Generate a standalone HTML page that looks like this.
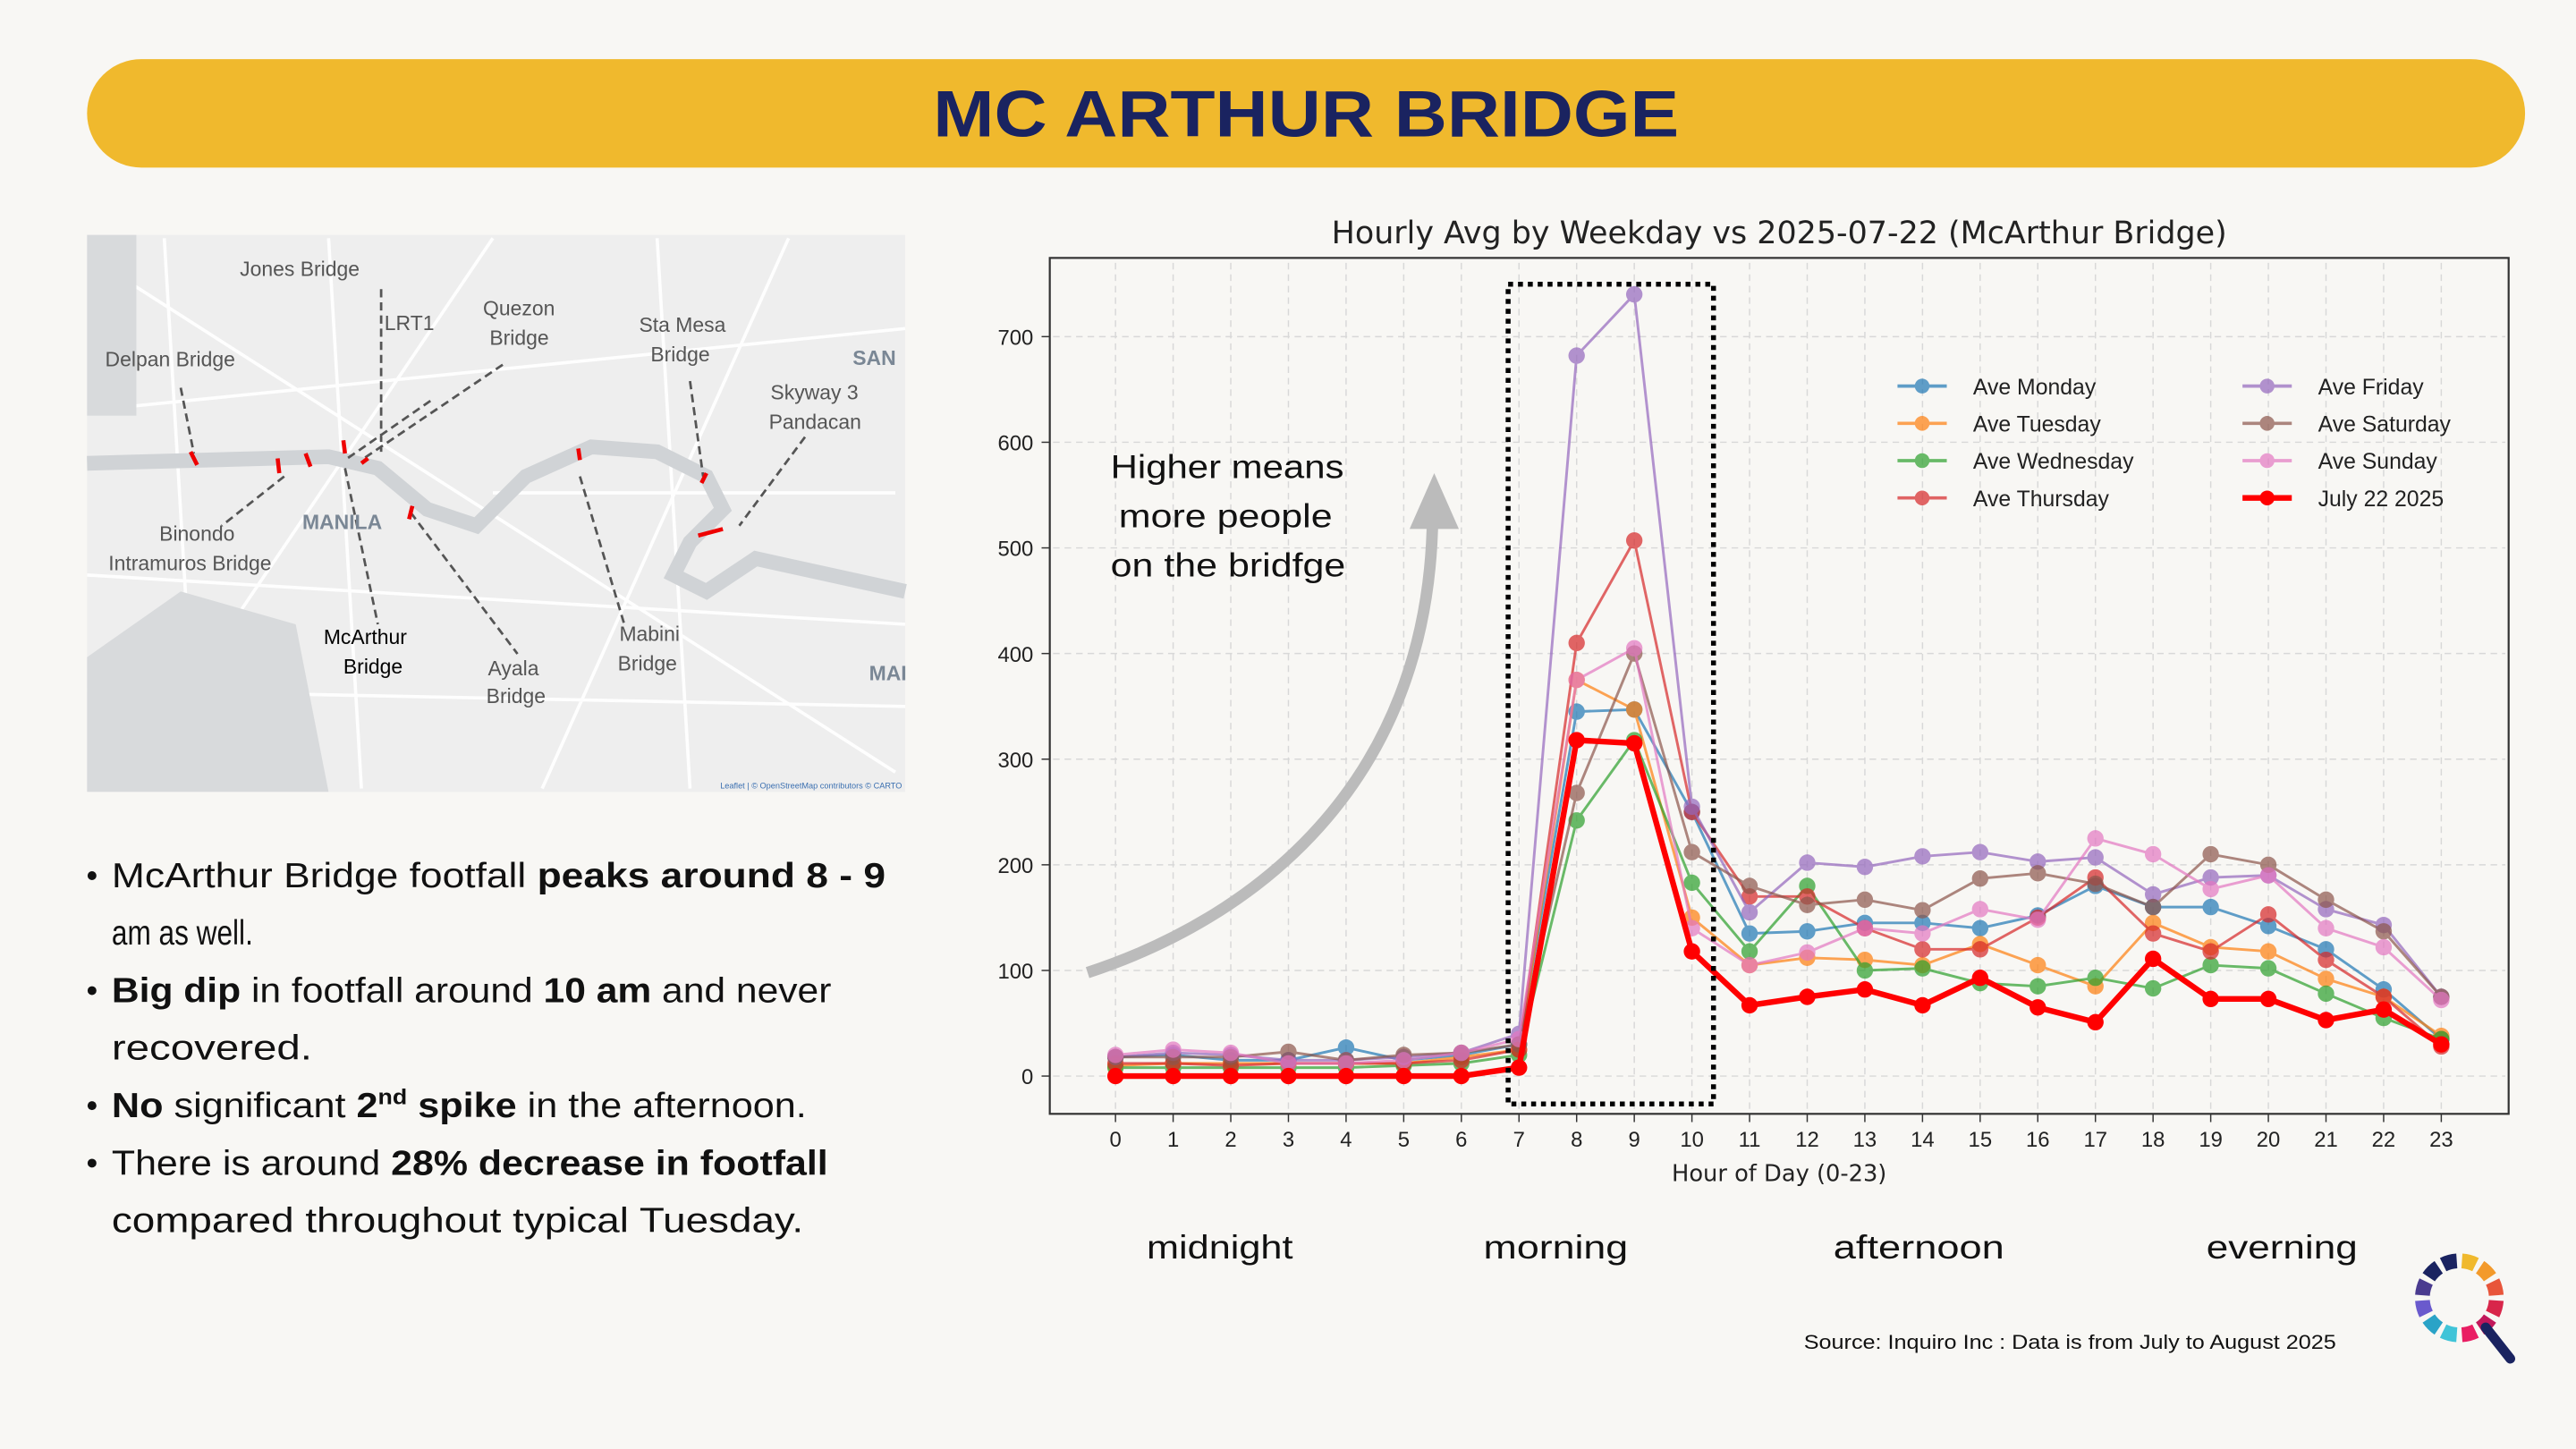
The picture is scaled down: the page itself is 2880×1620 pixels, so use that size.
<!DOCTYPE html>
<html><head><meta charset="utf-8"><style>
html,body{margin:0;padding:0;background:#f8f7f4;}
svg{display:block}
text{font-family:"Liberation Sans","DejaVu Sans",sans-serif}
.dv{font-family:"DejaVu Sans","Liberation Sans",sans-serif}
</style></head><body>
<svg id="s" width="2880" height="1620" viewBox="0 0 1568 882" xmlns="http://www.w3.org/2000/svg">
<rect width="1568" height="882" fill="#f8f7f4"/>
<rect x="53" y="36" width="1484" height="66" rx="33" fill="#f0b92d"/>
<text x="568" y="83" textLength="454" lengthAdjust="spacingAndGlyphs" font-size="40" font-weight="900" fill="#1a2360">MC ARTHUR BRIDGE</text>

<!-- map -->
<rect x="53" y="143" width="498" height="339" fill="#eeeeee"/>
<g stroke="#ffffff" stroke-width="2" fill="none" opacity="0.9">
<path d="M60 160 L545 470 M80 470 L300 145 M200 145 L220 480 M300 300 L545 300 M53 250 L551 200 M53 350 L551 380 M400 145 L420 480 M480 145 L330 480 M100 145 L120 480 M53 420 L551 430"/>
</g>
<rect x="53" y="143" width="30" height="110" fill="#d8dadc"/>
<path d="M53 400 L110 360 L180 380 L200 482 L53 482 Z" fill="#d8dadc"/>
<path d="M53 282 L200 278 L230 285 L260 310 L290 320 L320 290 L360 272 L400 275 L430 290 L440 310 L420 330 L410 350 L430 360 L460 340 L551 360" stroke="#d0d3d6" stroke-width="9" fill="none"/>
<g stroke="#555" stroke-width="1.5" stroke-dasharray="5 3" fill="none">
<path d="M110 236 L118 276 M232 176 L232 275 M262 244 L210 280 M306 222 L220 280 M210 285 L230 380 M173 290 L135 320 M250 312 L315 398 M353 290 L380 380 M420 232 L428 290 M490 266 L450 320"/>
</g>
<g stroke="#e00" stroke-width="2.5" fill="none"><path d="M116 275 L120 283 M169 279 L170 288 M186 276 L189 284 M209 268 L210 276 M220 282 L224 279 M251 308 L249 316 M352 273 L353 280 M430 288 L427 294 M425 326 L440 322"/></g>
<g font-size="12.5" fill="#555">
<text x="146" y="168">Jones Bridge</text><text x="64" y="223">Delpan Bridge</text><text x="234" y="201">LRT1</text>
<text x="294" y="192">Quezon</text><text x="298" y="210">Bridge</text><text x="389" y="202">Sta Mesa</text><text x="396" y="220">Bridge</text>
<text x="469" y="243">Skyway 3</text><text x="468" y="261">Pandacan</text><text x="97" y="329">Binondo</text><text x="66" y="347">Intramuros Bridge</text>
<text x="297" y="411">Ayala</text><text x="296" y="428">Bridge</text><text x="377" y="390">Mabini</text><text x="376" y="408">Bridge</text>
<text x="184" y="322" font-weight="bold" fill="#7a8795">MANILA</text><text x="519" y="222" font-weight="bold" fill="#7a8795">SAN</text><text x="529" y="414" font-weight="bold" fill="#7a8795">MAI</text>
</g>
<text x="197" y="392" font-size="12.5" fill="#000">McArthur</text><text x="209" y="410" font-size="12.5" fill="#000">Bridge</text>
<text x="549" y="480" font-size="5" fill="#3a6fb0" text-anchor="end">Leaflet | © OpenStreetMap contributors © CARTO</text>

<!-- bullets -->
<g font-size="21" fill="#111">
<circle cx="56" cy="533" r="2.7" fill="#111"/><text x="68" y="540" textLength="471" lengthAdjust="spacingAndGlyphs">McArthur Bridge footfall <tspan font-weight="bold">peaks around 8 - 9</tspan></text>
<text x="68" y="575" textLength="86" lengthAdjust="spacingAndGlyphs">am as well.</text>
<circle cx="56" cy="603" r="2.7" fill="#111"/><text x="68" y="610" textLength="438" lengthAdjust="spacingAndGlyphs"><tspan font-weight="bold">Big dip</tspan> in footfall around <tspan font-weight="bold">10 am</tspan> and never</text>
<text x="68" y="645" textLength="122" lengthAdjust="spacingAndGlyphs">recovered.</text>
<circle cx="56" cy="673" r="2.7" fill="#111"/><text x="68" y="680" textLength="423" lengthAdjust="spacingAndGlyphs"><tspan font-weight="bold">No</tspan> significant <tspan font-weight="bold">2<tspan font-size="13" dy="-8">nd</tspan><tspan dy="8"> spike</tspan></tspan> in the afternoon.</text>
<circle cx="56" cy="708" r="2.7" fill="#111"/><text x="68" y="715" textLength="436" lengthAdjust="spacingAndGlyphs">There is around <tspan font-weight="bold">28% decrease in footfall</tspan></text>
<text x="68" y="750" textLength="421" lengthAdjust="spacingAndGlyphs">compared throughout typical Tuesday.</text>
</g>

<!-- chart -->
<text class="dv" x="1083" y="148" text-anchor="middle" font-size="19" fill="#222">Hourly Avg by Weekday vs 2025-07-22 (McArthur Bridge)</text>
<rect x="639" y="157" width="888" height="521" fill="#f8f7f4" stroke="#333" stroke-width="1.2"/>
<g id="grid" stroke="#d8d8d8" stroke-width="0.8" stroke-dasharray="4 3"></g>
<g id="ticks" class="dv" font-size="13" fill="#222"></g>
<text class="dv" x="1083" y="719" text-anchor="middle" font-size="14" fill="#222">Hour of Day (0-23)</text>
<g id="series"></g>
<rect x="918" y="173" width="125" height="499" fill="none" stroke="#000" stroke-width="3" stroke-dasharray="3 3"/>
<path d="M662 592 C760 560 870 480 872 315" stroke="#bbb" stroke-width="7" fill="none"/>
<path d="M858 322 L873 288 L888 322 Z" fill="#bbb"/>
<g font-size="20" fill="#111">
<text x="676" y="291" textLength="142" lengthAdjust="spacingAndGlyphs">Higher means</text><text x="681" y="321" textLength="130" lengthAdjust="spacingAndGlyphs">more people</text><text x="676" y="351" textLength="143" lengthAdjust="spacingAndGlyphs">on the bridfge</text>
</g>
<g id="legend" class="dv" font-size="13.5" fill="#222"></g>

<g font-size="20" fill="#111">
<text x="698" y="766" textLength="89" lengthAdjust="spacingAndGlyphs">midnight</text><text x="903" y="766" textLength="88" lengthAdjust="spacingAndGlyphs">morning</text><text x="1116" y="766" textLength="104" lengthAdjust="spacingAndGlyphs">afternoon</text><text x="1343" y="766" textLength="92" lengthAdjust="spacingAndGlyphs">everning</text>
</g>
<text x="1098" y="821" textLength="324" lengthAdjust="spacingAndGlyphs" font-size="12" fill="#111">Source: Inquiro Inc : Data is from July to August 2025</text>
<g id="logo"></g>
<path d="M1513 808 L1528 827" stroke="#1a2360" stroke-width="6" stroke-linecap="round"/>
</svg>
<script>
var NS="http://www.w3.org/2000/svg";
function el(t,a,p){var e=document.createElementNS(NS,t);for(var k in a)e.setAttribute(k,a[k]);document.getElementById(p).appendChild(e);return e;}
function X(h){return 679+h*35.087;}function Y(v){return 655-v*0.643;}
for(var h=0;h<24;h++){el("line",{x1:X(h),y1:160,x2:X(h),y2:676},"grid");el("line",{x1:X(h),y1:678,x2:X(h),y2:683,stroke:"#333","stroke-dasharray":"none"},"grid");var t=el("text",{x:X(h),y:698,"text-anchor":"middle"},"ticks");t.textContent=h;}
for(var v=0;v<=700;v+=100){el("line",{x1:641,y1:Y(v),x2:1525,y2:Y(v)},"grid");el("line",{x1:634,y1:Y(v),x2:639,y2:Y(v),stroke:"#333","stroke-dasharray":"none"},"grid");var t=el("text",{x:629,y:Y(v)+5,"text-anchor":"end"},"ticks");t.textContent=v;}
var S=[
["#1f77b4",[18,20,15,15,27,15,20,30,345,347,250,135,137,145,145,140,152,180,160,160,142,120,82,35]],
["#ff7f0e",[10,12,12,12,12,12,18,25,375,347,150,105,112,110,105,125,105,85,145,122,118,92,75,38]],
["#2ca02c",[8,8,8,8,8,10,12,20,242,318,183,118,180,100,102,88,85,93,83,105,102,78,55,35]],
["#d62728",[12,12,10,12,12,12,15,25,410,507,250,170,170,140,120,120,150,188,135,118,153,110,75,28]],
["#9467bd",[18,22,20,15,15,18,22,40,682,740,255,155,202,198,208,212,203,207,172,188,190,158,143,75]],
["#8c564b",[18,18,18,23,15,20,22,30,268,400,212,180,162,167,157,187,192,182,160,210,200,167,137,75]],
["#e377c2",[20,25,22,12,12,15,22,35,375,405,140,105,117,140,135,158,148,225,210,177,190,140,122,72]],
["#ff0000",[0,0,0,0,0,0,0,8,318,315,118,67,75,82,67,93,65,51,111,73,73,53,63,30]]];
S.forEach(function(s,i){var last=i==7;var g=el("g",{opacity:last?1:0.7},"series");var d="";s[1].forEach(function(v,h){d+=(h?"L":"M")+X(h)+" "+Y(v);});
var p=document.createElementNS(NS,"path");p.setAttribute("d",d);p.setAttribute("stroke",s[0]);p.setAttribute("stroke-width",last?3.5:1.6);p.setAttribute("fill","none");g.appendChild(p);
s[1].forEach(function(v,h){var c=document.createElementNS(NS,"circle");c.setAttribute("cx",X(h));c.setAttribute("cy",Y(v));c.setAttribute("r",5);c.setAttribute("fill",s[0]);g.appendChild(c);});});
var L=["Ave Monday","Ave Tuesday","Ave Wednesday","Ave Thursday","Ave Friday","Ave Saturday","Ave Sunday","July 22 2025"];
L.forEach(function(n,i){var col=i<4?0:1;var r=i%4;var x=col?1365:1155;var y=235+r*22.7;var last=i==7;
var g=el("g",{opacity:last?1:0.7},"legend");var l=document.createElementNS(NS,"line");l.setAttribute("x1",x);l.setAttribute("x2",x+30);l.setAttribute("y1",y);l.setAttribute("y2",y);l.setAttribute("stroke",S[i][0]);l.setAttribute("stroke-width",last?3.5:2);g.appendChild(l);
var c=document.createElementNS(NS,"circle");c.setAttribute("cx",x+15);c.setAttribute("cy",y);c.setAttribute("r",4.5);c.setAttribute("fill",S[i][0]);g.appendChild(c);
var t=el("text",{x:x+46,y:y+5},"legend");t.textContent=n;});
var cols=["#f0b92d","#f39a2b","#e8553a","#d8264a","#c2185b","#e91e63","#40c4d8","#2aa3c7","#6a5acd","#4a3b8f","#1a2360","#1a2360"];
for(var i=0;i<12;i++){var a0=(-90+i*30+4)*Math.PI/180,a1=(-90+i*30+26)*Math.PI/180,r1=18,r2=27,cx=1497,cy=790;
var d="M"+(cx+r2*Math.cos(a0))+" "+(cy+r2*Math.sin(a0))+"A"+r2+" "+r2+" 0 0 1 "+(cx+r2*Math.cos(a1))+" "+(cy+r2*Math.sin(a1))+"L"+(cx+r1*Math.cos(a1))+" "+(cy+r1*Math.sin(a1))+"A"+r1+" "+r1+" 0 0 0 "+(cx+r1*Math.cos(a0))+" "+(cy+r1*Math.sin(a0))+"Z";
el("path",{d:d,fill:cols[i]},"logo");}
</script>
</body></html>
